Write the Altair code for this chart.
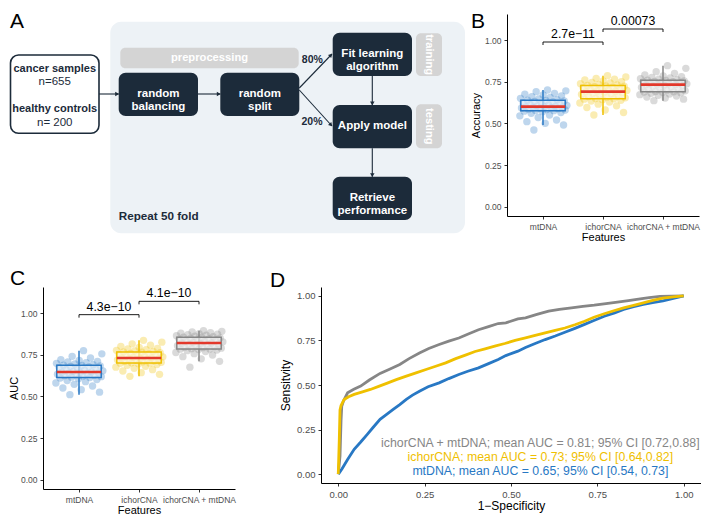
import altair as alt
import pandas as pd

FONT = "Liberation Sans"
NAVY = "#1c2b3a"
GROUPS = ["mtDNA", "ichorCNA", "ichorCNA + mtDNA"]
COLORS = ["#2878C4", "#EFC000", "#868686"]
MEDIAN_RED = "#E3382B"

# ---------------- Panel B: accuracy per fold (50 folds) ----------------
acc_mtdna = [0.46, 0.49, 0.50, 0.51, 0.52, 0.535, 0.545, 0.55, 0.56, 0.565, 0.57, 0.573,
             0.576, 0.577, 0.58, 0.583, 0.585, 0.588, 0.59, 0.592, 0.594, 0.596, 0.597, 0.598,
             0.599, 0.601, 0.604, 0.607, 0.61, 0.613, 0.617, 0.62, 0.624, 0.628, 0.632, 0.635,
             0.637, 0.639, 0.642, 0.646, 0.65, 0.655, 0.66, 0.665, 0.67, 0.675, 0.68, 0.69, 0.695, 0.70]
acc_ichor = [0.55, 0.565, 0.58, 0.595, 0.605, 0.615, 0.622, 0.628, 0.634, 0.638, 0.642, 0.645,
             0.647, 0.649, 0.653, 0.657, 0.661, 0.665, 0.669, 0.673, 0.677, 0.681, 0.684, 0.687,
             0.689, 0.691, 0.694, 0.697, 0.70, 0.704, 0.708, 0.711, 0.714, 0.717, 0.72, 0.723,
             0.725, 0.727, 0.73, 0.734, 0.738, 0.742, 0.746, 0.75, 0.755, 0.76, 0.765, 0.77, 0.778, 0.786]
acc_combo = [0.636, 0.645, 0.652, 0.658, 0.664, 0.668, 0.672, 0.676, 0.68, 0.683, 0.686, 0.688,
             0.689, 0.691, 0.695, 0.699, 0.703, 0.707, 0.711, 0.715, 0.719, 0.723, 0.726, 0.729,
             0.731, 0.733, 0.735, 0.737, 0.739, 0.741, 0.743, 0.745, 0.748, 0.75, 0.752, 0.755,
             0.757, 0.759, 0.762, 0.765, 0.768, 0.772, 0.776, 0.78, 0.785, 0.79, 0.80, 0.81, 0.83, 0.846]
acc_pvals = ["2.7e\u221211", "0.00073"]

# ---------------- Panel C: AUC per fold (50 folds) ----------------
auc_mtdna = [0.51, 0.525, 0.54, 0.55, 0.562, 0.572, 0.58, 0.588, 0.595, 0.601, 0.606, 0.61,
             0.613, 0.615, 0.618, 0.621, 0.624, 0.627, 0.63, 0.633, 0.636, 0.639, 0.641, 0.643,
             0.645, 0.647, 0.65, 0.653, 0.657, 0.661, 0.665, 0.669, 0.673, 0.677, 0.68, 0.683,
             0.685, 0.687, 0.69, 0.694, 0.698, 0.702, 0.706, 0.71, 0.715, 0.72, 0.73, 0.74, 0.755, 0.774]
auc_ichor = [0.62, 0.632, 0.642, 0.652, 0.66, 0.668, 0.675, 0.68, 0.686, 0.691, 0.695, 0.698,
             0.699, 0.701, 0.704, 0.707, 0.71, 0.713, 0.716, 0.719, 0.721, 0.723, 0.725, 0.727,
             0.729, 0.731, 0.734, 0.737, 0.74, 0.743, 0.746, 0.749, 0.752, 0.755, 0.758, 0.762,
             0.765, 0.767, 0.77, 0.773, 0.776, 0.78, 0.784, 0.788, 0.793, 0.80, 0.807, 0.815, 0.825, 0.836]
auc_combo = [0.675, 0.71, 0.725, 0.738, 0.748, 0.756, 0.763, 0.769, 0.774, 0.778, 0.781, 0.783,
             0.784, 0.786, 0.789, 0.792, 0.795, 0.798, 0.801, 0.804, 0.807, 0.81, 0.813, 0.816,
             0.819, 0.821, 0.824, 0.827, 0.83, 0.833, 0.836, 0.839, 0.842, 0.845, 0.848, 0.851,
             0.853, 0.855, 0.858, 0.861, 0.864, 0.867, 0.87, 0.873, 0.876, 0.879, 0.882, 0.886, 0.89, 0.894]
auc_pvals = ["4.3e\u221210", "4.1e\u221210"]

# comparisons: (from group index, to group index, bracket level)
cmp_from = [1, 2]
cmp_to = [2, 3]
acc_levels = [0.988, 1.066]
auc_levels = [0.99, 1.07]

# ---------------- Panel D: mean ROC curves ----------------
roc_combo_fpr = [0.0, 0.005, 0.008, 0.010, 0.015, 0.027, 0.045, 0.065, 0.09, 0.121, 0.15, 0.178, 0.205,
                 0.235, 0.262, 0.292, 0.32, 0.349, 0.378, 0.406, 0.435, 0.463, 0.485, 0.52, 0.542, 0.575,
                 0.609, 0.64, 0.675, 0.708, 0.741, 0.775, 0.808, 0.84, 0.874, 0.9, 0.931, 0.965, 1.0]
roc_combo_tpr = [0.0, 0.10, 0.30, 0.38, 0.41, 0.456, 0.476, 0.494, 0.528, 0.565, 0.59, 0.615, 0.648,
                 0.68, 0.705, 0.727, 0.746, 0.764, 0.788, 0.81, 0.828, 0.845, 0.849, 0.871, 0.877, 0.896,
                 0.914, 0.925, 0.933, 0.941, 0.948, 0.957, 0.965, 0.974, 0.983, 0.99, 0.997, 0.999, 1.0]
roc_ichor_fpr = [0.0, 0.003, 0.005, 0.008, 0.017, 0.03, 0.046, 0.07, 0.093, 0.117, 0.14, 0.168, 0.197,
                 0.225, 0.254, 0.282, 0.311, 0.34, 0.368, 0.396, 0.425, 0.453, 0.482, 0.512, 0.542, 0.57,
                 0.599, 0.628, 0.656, 0.685, 0.713, 0.74, 0.77, 0.8, 0.826, 0.855, 0.883, 0.91, 0.94, 0.97, 1.0]
roc_ichor_tpr = [0.0, 0.20, 0.36, 0.385, 0.419, 0.434, 0.447, 0.461, 0.475, 0.492, 0.509, 0.53, 0.55,
                 0.568, 0.587, 0.605, 0.624, 0.648, 0.668, 0.688, 0.703, 0.718, 0.733, 0.75, 0.764, 0.778,
                 0.792, 0.806, 0.82, 0.838, 0.858, 0.88, 0.9, 0.918, 0.933, 0.947, 0.961, 0.975, 0.987, 0.995, 1.0]
roc_mtdna_fpr = [0.0, 0.002, 0.011, 0.027, 0.046, 0.065, 0.084, 0.10, 0.121, 0.14, 0.159, 0.178, 0.197,
                 0.215, 0.235, 0.26, 0.292, 0.32, 0.349, 0.375, 0.406, 0.435, 0.463, 0.485, 0.52, 0.542,
                 0.57, 0.599, 0.628, 0.656, 0.685, 0.713, 0.74, 0.77, 0.8, 0.826, 0.855, 0.883, 0.91, 0.94, 0.97, 1.0]
roc_mtdna_tpr = [0.0, 0.004, 0.03, 0.082, 0.139, 0.18, 0.223, 0.26, 0.307, 0.335, 0.363, 0.39, 0.419,
                 0.443, 0.465, 0.49, 0.512, 0.536, 0.559, 0.577, 0.596, 0.62, 0.643, 0.665, 0.69, 0.71,
                 0.733, 0.755, 0.775, 0.796, 0.818, 0.84, 0.862, 0.886, 0.905, 0.924, 0.94, 0.952, 0.962,
                 0.972, 0.986, 1.0]
roc_labels = ["ichorCNA + mtDNA; mean AUC = 0.81; 95% CI [0.72,0.88]",
              "ichorCNA; mean AUC = 0.73; 95% CI [0.64,0.82]",
              "mtDNA; mean AUC = 0.65; 95% CI [0.54, 0.73]"]
roc_label_groups = ["ichorCNA + mtDNA", "ichorCNA", "mtDNA"]
roc_label_y = [0.176, 0.097, 0.018]
roc_label_x = 0.585

# ---------------- Panel A: workflow diagram ----------------
input_lines = ["cancer samples", "n=655", "healthy controls", "n= 200"]
input_bold = [True, False, True, False]
node_labels = ["random\nbalancing", "random\nsplit", "Fit learning\nalgorithm",
               "Apply model", "Retrieve\nperformance"]
tag_labels = ["preprocessing", "training", "testing"]
split_labels = ["80%", "20%"]
repeat_label = "Repeat 50 fold"

# diagram layout (diagram units)
bg_box = dict(x1=108.3, x2=463.0, y1=21.7, y2=233.3)
frame_box = dict(x1=7.0, x2=8.0, y1=8.0, y2=250.0)   # invisible extent of the diagram panel
input_box = dict(x1=8.5, x2=97.0, y1=55.0, y2=133.3)
input_text_y = [69.0, 82.3, 109.0, 122.7]
node_x1 = [116.7, 218.3, 330.7, 330.7, 330.7]
node_x2 = [196.0, 297.3, 410.0, 410.0, 410.0]
node_y1 = [72.7, 72.7, 32.7, 105.0, 176.7]
node_y2 = [116.0, 116.0, 76.0, 148.3, 220.0]
tag_x1 = [118.3, 414.0, 414.0]
tag_x2 = [296.7, 440.0, 440.0]
tag_y1 = [47.7, 33.3, 104.3]
tag_y2 = [68.3, 76.0, 148.3]
tag_angle = [0, 90, 90]
arrow_x1 = [97.0, 196.0, 297.3, 297.3, 370.3, 370.3]
arrow_y1 = [94.0, 94.0, 88.0, 90.0, 76.0, 148.3]
arrow_x2 = [116.7, 218.3, 330.0, 330.0, 370.3, 370.3]
arrow_y2 = [94.0, 94.0, 54.0, 126.0, 105.0, 176.7]
split_x = [310.3, 310.0]
split_y = [60.0, 121.7]

AXS = alt.Scale(domain=[41, 441], nice=False, zero=False)
AYS = alt.Scale(domain=[14, 216], nice=False, zero=False, reverse=True)


def ax(field):
    return alt.X(field, scale=AXS, axis=None)


def ay(field):
    return alt.Y(field, scale=AYS, axis=None)


frame_layer = alt.Chart(pd.DataFrame([frame_box])).mark_rect(opacity=0).encode(
    x=ax("x1:Q"), x2="x2:Q", y=ay("y1:Q"), y2="y2:Q")
bg_layer = alt.Chart(pd.DataFrame([bg_box])).mark_rect(color="#edf2f6", cornerRadius=11).encode(
    x=ax("x1:Q"), x2="x2:Q", y=ay("y1:Q"), y2="y2:Q")

tag_df = pd.DataFrame({"label": tag_labels, "x1": tag_x1, "x2": tag_x2,
                       "y1": tag_y1, "y2": tag_y2, "ang": tag_angle})
tag_rect = alt.Chart(tag_df).mark_rect(color="#d4d4d4", cornerRadius=5).encode(
    x=ax("x1:Q"), x2="x2:Q", y=ay("y1:Q"), y2="y2:Q")
tag_text = alt.Chart(tag_df).transform_calculate(
    cx="(datum.x1 + datum.x2) / 2", cy="(datum.y1 + datum.y2) / 2"
).mark_text(color="white", fontWeight="bold", fontSize=11.2, baseline="middle").encode(
    x=ax("cx:Q"), y=ay("cy:Q"), text="label:N", angle=alt.Angle("ang:Q", scale=None))

node_df = pd.DataFrame({"label": node_labels, "x1": node_x1, "x2": node_x2,
                        "y1": node_y1, "y2": node_y2})
node_rect = alt.Chart(node_df).mark_rect(color=NAVY, cornerRadius=7).encode(
    x=ax("x1:Q"), x2="x2:Q", y=ay("y1:Q"), y2="y2:Q")
node_text = alt.Chart(node_df).transform_calculate(
    cx="(datum.x1 + datum.x2) / 2", cy="(datum.y1 + datum.y2) / 2 - 0.5"
).mark_text(color="white", fontWeight="bold", fontSize=11.5, baseline="middle",
            lineBreak="\n", lineHeight=13.3).encode(
    x=ax("cx:Q"), y=ay("cy:Q"), text="label:N")

in_rect = alt.Chart(pd.DataFrame([input_box])).mark_rect(
    fill="white", stroke=NAVY, strokeWidth=1.6, cornerRadius=8).encode(
    x=ax("x1:Q"), x2="x2:Q", y=ay("y1:Q"), y2="y2:Q")
in_text_df = pd.DataFrame({"label": input_lines, "bold": input_bold, "y": input_text_y,
                           "x": [(input_box["x1"] + input_box["x2"]) / 2] * len(input_lines)})
in_text_b = alt.Chart(in_text_df).transform_filter("datum.bold").mark_text(
    color=NAVY, fontWeight="bold", fontSize=11, baseline="middle").encode(
    x=ax("x:Q"), y=ay("y:Q"), text="label:N")
in_text_r = alt.Chart(in_text_df).transform_filter("!datum.bold").mark_text(
    color=NAVY, fontSize=11.5, baseline="middle").encode(
    x=ax("x:Q"), y=ay("y:Q"), text="label:N")

arr_df = pd.DataFrame({"x1": arrow_x1, "y1": arrow_y1, "x2": arrow_x2, "y2": arrow_y2})
arr_line = alt.Chart(arr_df).mark_rule(color=NAVY, strokeWidth=1.1).encode(
    x=ax("x1:Q"), y=ay("y1:Q"), x2="x2:Q", y2="y2:Q")
arr_head = alt.Chart(arr_df).transform_calculate(
    ln="sqrt(pow(datum.x2 - datum.x1, 2) + pow(datum.y2 - datum.y1, 2))"
).transform_calculate(
    hx="datum.x2 - 2.2 * (datum.x2 - datum.x1) / datum.ln",
    hy="datum.y2 - 2.2 * (datum.y2 - datum.y1) / datum.ln",
    ang="(atan2(datum.x2 - datum.x1, datum.y1 - datum.y2) * 180 / PI + 360) % 360"
).mark_point(shape="triangle", filled=True, size=20, color=NAVY, opacity=1).encode(
    x=ax("hx:Q"), y=ay("hy:Q"), angle=alt.Angle("ang:Q", scale=None))

split_df = pd.DataFrame({"label": split_labels, "x": split_x, "y": split_y})
split_text = alt.Chart(split_df).mark_text(color=NAVY, fontWeight="bold", fontSize=10.5,
                                           baseline="middle").encode(
    x=ax("x:Q"), y=ay("y:Q"), text="label:N")

repeat_text = alt.Chart(pd.DataFrame({"label": [repeat_label], "x": [116.7], "y": [216.0]})).mark_text(
    color=NAVY, fontWeight="bold", fontSize=11.7, baseline="middle", align="left").encode(
    x=ax("x:Q"), y=ay("y:Q"), text="label:N")

letter_a = alt.Chart(pd.DataFrame({"t": ["A"], "x": [8.0], "y": [11.0]})).mark_text(
    fontSize=21, align="left", baseline="top", color="black").encode(
    x=ax("x:Q"), y=ay("y:Q"), text="t:N")

panel_a = alt.layer(frame_layer, bg_layer, tag_rect, tag_text, node_rect, node_text, in_rect,
                    in_text_b, in_text_r, arr_line, arr_head, split_text, repeat_text,
                    letter_a).properties(width=400, height=202)

# ---------------- box panels ----------------
color_scale = alt.Scale(domain=GROUPS, range=COLORS)
label_expr = " : ".join(f"datum.value == {k + 1} ? '{g}'" for k, g in enumerate(GROUPS)) + " : ''"


def box_panel(series, ytitle, levels, pvals, letter, letter_dx, letter_dy, ytitle_pad, marker=None):
    rows = []
    for gi, g in enumerate(GROUPS):
        for i, v in enumerate(series[gi]):
            rows.append({"group": g, "pos": gi + 1, "i": i, "value": v})
    df = pd.DataFrame(rows)
    xs = alt.Scale(domain=[0.4, 3.6], nice=False, zero=False)
    ys = alt.Scale(domain=[-0.056, 1.156], nice=False, zero=False)
    xax = alt.Axis(values=[1, 2, 3], labelExpr=label_expr, title="Features",
                   labelFontSize=8.5, titleFontSize=11, titlePadding=1,
                   labelOverlap=False, labelFlush=False)
    yax = alt.Axis(values=[0, 0.25, 0.5, 0.75, 1.0], format=".2f", title=ytitle,
                   labelFontSize=8.5, titleFontSize=11, titlePadding=ytitle_pad,
                   labelFlush=False)
    col = alt.Color("group:N", scale=color_scale, legend=None)
    base = alt.Chart(df)

    pts = base.transform_calculate(
        xj="datum.pos + 0.8 * ((datum.i * 0.618034 + 0.31) % 1 - 0.5)"
    ).mark_circle(size=55, opacity=0.3).encode(
        x=alt.X("xj:Q", scale=xs, axis=xax), y=alt.Y("value:Q", scale=ys, axis=yax), color=col)

    whisk = base.transform_joinaggregate(
        q1="q1(value)", q3="q3(value)", groupby=["group"]
    ).transform_filter(
        "datum.value >= datum.q1 - 1.5 * (datum.q3 - datum.q1) && "
        "datum.value <= datum.q3 + 1.5 * (datum.q3 - datum.q1)"
    ).transform_aggregate(
        lo="min(value)", hi="max(value)", groupby=["group", "pos"]
    ).mark_rule(strokeWidth=1.5).encode(
        x=alt.X("pos:Q", scale=xs, axis=xax), y=alt.Y("lo:Q", scale=ys, axis=yax),
        y2="hi:Q", color=col)

    stats = base.transform_aggregate(
        q1="q1(value)", med="median(value)", q3="q3(value)", groupby=["group", "pos"]
    ).transform_calculate(xl="datum.pos - 0.37", xr="datum.pos + 0.37")
    box = stats.mark_rect(fill="white", fillOpacity=0.55, strokeWidth=1.5).encode(
        x=alt.X("xl:Q", scale=xs, axis=xax), x2="xr:Q",
        y=alt.Y("q1:Q", scale=ys, axis=yax), y2="q3:Q",
        stroke=alt.Stroke("group:N", scale=color_scale, legend=None))
    med = stats.mark_rule(color=MEDIAN_RED, strokeWidth=2.6).encode(
        x=alt.X("xl:Q", scale=xs, axis=xax), x2="xr:Q",
        y=alt.Y("med:Q", scale=ys, axis=yax))

    br = pd.DataFrame({"x1": cmp_from, "x2": cmp_to, "y": levels, "label": pvals})
    br_h = alt.Chart(br).mark_rule(color="black", strokeWidth=0.9).encode(
        x=alt.X("x1:Q", scale=xs, axis=xax), x2="x2:Q", y=alt.Y("y:Q", scale=ys, axis=yax))
    br_t = alt.Chart(br).transform_fold(["x1", "x2"], as_=["side", "xe"]).transform_calculate(
        yb="datum.y - 0.018"
    ).mark_rule(color="black", strokeWidth=0.9).encode(
        x=alt.X("xe:Q", scale=xs, axis=xax), y=alt.Y("y:Q", scale=ys, axis=yax), y2="yb:Q")
    br_l = alt.Chart(br).transform_calculate(xm="(datum.x1 + datum.x2) / 2").mark_text(
        baseline="bottom", dy=-1, fontSize=12.3, color="black").encode(
        x=alt.X("xm:Q", scale=xs, axis=xax), y=alt.Y("y:Q", scale=ys, axis=yax), text="label:N")

    let = alt.Chart(pd.DataFrame({"t": [letter]})).mark_text(
        fontSize=21, align="left", baseline="top", color="black",
        x=letter_dx, y=letter_dy).encode(text="t:N")

    layers = [pts, whisk, box, med, br_h, br_t, br_l, let]
    if marker is not None:
        # invisible corner that fixes the panel's outer extent
        layers.insert(0, alt.Chart(pd.DataFrame({"t": [0]})).mark_rect(opacity=0).encode(
            x=alt.value(marker[0]), x2=alt.value(marker[0] + 1),
            y=alt.value(marker[1]), y2=alt.value(marker[1] + 1)))
    return alt.layer(*layers).properties(width=192, height=202)


panel_b = box_panel([acc_mtdna, acc_ichor, acc_combo], "Accuracy", acc_levels, acc_pvals,
                    "B", -36, -3, 3)
panel_c = box_panel([auc_mtdna, auc_ichor, auc_combo], "AUC", auc_levels, auc_pvals,
                    "C", -33, -19.5, 1, marker=(-34, -24.5))

# ---------------- ROC panel ----------------
roc_rows = []
for g, fx, ty in [("ichorCNA + mtDNA", roc_combo_fpr, roc_combo_tpr),
                  ("mtDNA", roc_mtdna_fpr, roc_mtdna_tpr),
                  ("ichorCNA", roc_ichor_fpr, roc_ichor_tpr)]:
    for k, (a, b) in enumerate(zip(fx, ty)):
        roc_rows.append({"group": g, "k": k, "fpr": a, "tpr": b})
roc_df = pd.DataFrame(roc_rows)

dxs = alt.Scale(domain=[-0.05, 1.05], nice=False, zero=False)
dys = alt.Scale(domain=[-0.05, 1.05], nice=False, zero=False)
dxax = alt.Axis(values=[0, 0.25, 0.5, 0.75, 1.0], format=".2f", title="1\u2212Specificity",
                labelFontSize=9.5, titleFontSize=12, titlePadding=2, labelFlush=False)
dyax = alt.Axis(values=[0, 0.25, 0.5, 0.75, 1.0], format=".2f", title="Sensitvity",
                labelFontSize=9.5, titleFontSize=12, titlePadding=4, labelFlush=False)
dcol = alt.Color("group:N", scale=color_scale, legend=None)

roc_layers = []
for g in ["ichorCNA + mtDNA", "mtDNA", "ichorCNA"]:
    roc_layers.append(
        alt.Chart(roc_df).transform_filter(alt.datum.group == g).mark_line(strokeWidth=2.8).encode(
            x=alt.X("fpr:Q", scale=dxs, axis=dxax), y=alt.Y("tpr:Q", scale=dys, axis=dyax),
            color=dcol, order="k:Q"))

leg_df = pd.DataFrame({"group": roc_label_groups, "label": roc_labels, "y": roc_label_y,
                       "x": [roc_label_x] * 3})
roc_text = alt.Chart(leg_df).mark_text(fontSize=12.3, baseline="middle", align="center").encode(
    x=alt.X("x:Q", scale=dxs, axis=dxax), y=alt.Y("y:Q", scale=dys, axis=dyax),
    text="label:N", color=dcol)
letter_d = alt.Chart(pd.DataFrame({"t": ["D"]})).mark_text(
    fontSize=21, align="left", baseline="top", color="black", x=-51, y=-17.5).encode(text="t:N")

panel_d = alt.layer(*roc_layers, roc_text, letter_d).properties(width=380, height=196)

row1 = alt.hconcat(panel_a, panel_b, spacing=64, bounds="flush")
row2 = alt.hconcat(panel_c, panel_d, spacing=86, bounds="flush")
chart = alt.vconcat(row1, row2, spacing=12).properties(
    padding=0
).configure(font=FONT).configure_view(stroke=None).configure_axis(
    grid=False, domainColor="black", domainWidth=1, tickColor="#333333", tickWidth=1,
    tickSize=3, labelPadding=3, labelColor="#4d4d4d", titleColor="black",
    titleFontWeight="normal", labelFont=FONT, titleFont=FONT)

chart.save("out.html", embed_options={"renderer": "svg", "actions": False})
